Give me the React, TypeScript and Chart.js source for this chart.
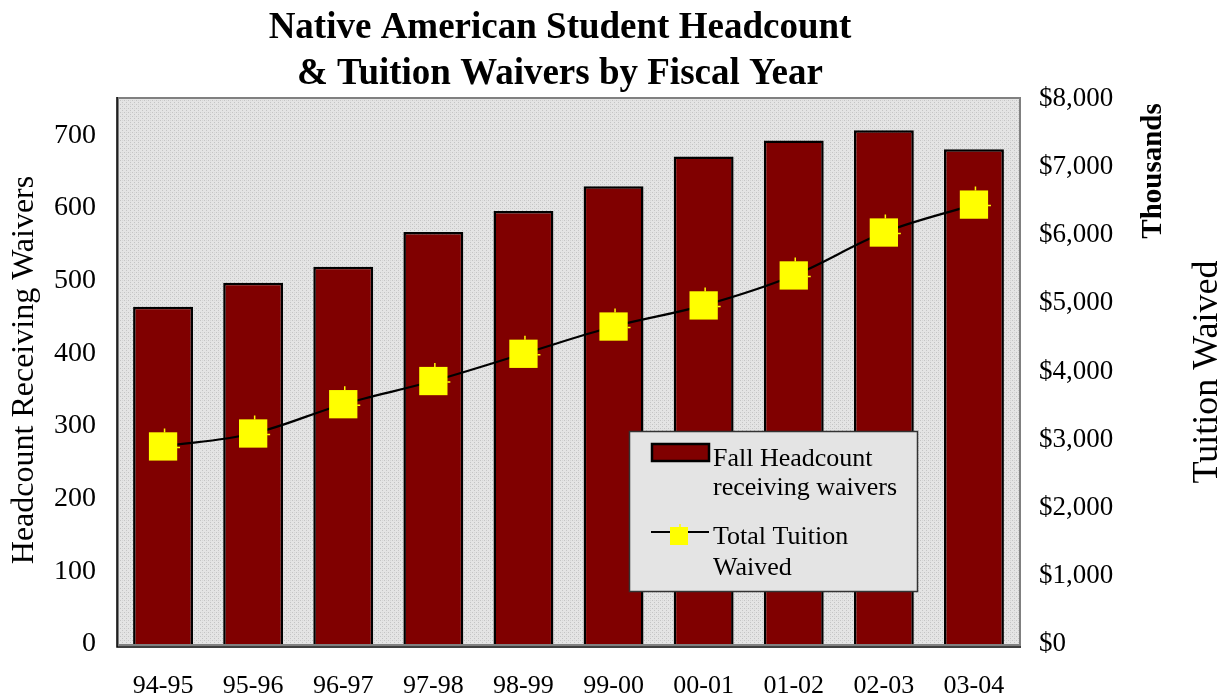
import React, { useEffect, useRef } from "react";
import { Chart, registerables } from "chart.js";

Chart.register(...registerables);

const categories = ["94-95", "95-96", "96-97", "97-98", "98-99", "99-00", "00-01", "01-02", "02-03", "03-04"];
const headcount = [464, 497, 519, 567, 596, 630, 671, 693, 707, 681];
const tuitionThousands = [2900, 3090, 3520, 3860, 4260, 4660, 4970, 5410, 6040, 6450];
const titleLines = ["Native American Student Headcount", "& Tuition Waivers by Fiscal Year"];
const leftTitle = "Headcount Receiving Waivers";
const rightTitle = "Tuition Waived";
const rightUnit = "Thousands";
const legendBarLabel = ["Fall Headcount", "receiving waivers"];
const legendLineLabel = ["Total Tuition", "Waived"];

const SERIF = "'Liberation Serif', 'Times New Roman', serif";
const BAR_COLOR = "#800000";
const MARKER_COLOR = "#ffff00";

function makePattern(ctx: CanvasRenderingContext2D) {
  const c = document.createElement("canvas");
  c.width = 4;
  c.height = 4;
  const p = c.getContext("2d")!;
  p.fillStyle = "#e4e4e4";
  p.fillRect(0, 0, 4, 4);
  p.fillStyle = "#c4c4c4";
  p.fillRect(0, 0, 1, 1);
  p.fillRect(2, 2, 1, 1);
  p.fillStyle = "#d6d6d6";
  p.fillRect(2, 0, 1, 1);
  return ctx.createPattern(c, "repeat");
}

export default function App() {
  const ref = useRef<HTMLCanvasElement | null>(null);

  useEffect(() => {
    document.body.style.margin = "0";
    const canvas = ref.current!;
    const ctx0 = canvas.getContext("2d")!;
    const pattern = makePattern(ctx0);

    const decor = {
      id: "decor",
      beforeDraw(chart: any) {
        const { ctx, chartArea: a } = chart;
        ctx.save();
        ctx.fillStyle = "#ffffff";
        ctx.fillRect(0, 0, chart.width, chart.height);
        ctx.fillStyle = pattern || "#e0e0e0";
        ctx.fillRect(a.left, a.top, a.right - a.left, a.bottom - a.top);
        ctx.restore();
      },
      afterDatasetsDraw(chart: any) {
        const { ctx, chartArea: a } = chart;
        ctx.save();
        // small marker ticks
        const meta = chart.getDatasetMeta(0);
        ctx.strokeStyle = MARKER_COLOR;
        ctx.lineWidth = 1.5;
        meta.data.forEach((pt: any) => {
          ctx.beginPath();
          ctx.moveTo(pt.x + 1.5, pt.y - 14);
          ctx.lineTo(pt.x + 1.5, pt.y - 18);
          ctx.moveTo(pt.x + 14, pt.y + 1);
          ctx.lineTo(pt.x + 17, pt.y + 1);
          ctx.stroke();
        });
        // frame
        ctx.strokeStyle = "#808080";
        ctx.lineWidth = 2;
        ctx.strokeRect(a.left, a.top - 1, a.right - a.left + 1, a.bottom - a.top + 2);
        ctx.strokeStyle = "#000000";
        ctx.lineWidth = 1.5;
        ctx.beginPath();
        ctx.moveTo(a.left - 1, a.top - 2);
        ctx.lineTo(a.left - 1, a.bottom + 3);
        ctx.lineTo(a.right + 2, a.bottom + 3);
        ctx.stroke();
        ctx.restore();
      },
      afterDraw(chart: any) {
        const { ctx } = chart;
        ctx.save();
        ctx.fillStyle = "#000";
        // title
        ctx.font = `bold 37px ${SERIF}`;
        ctx.textAlign = "center";
        ctx.textBaseline = "alphabetic";
        ctx.fillText(titleLines[0], 560, 38);
        ctx.fillText(titleLines[1], 560, 84);

        // left axis title
        ctx.save();
        ctx.translate(33, 370);
        ctx.rotate(-Math.PI / 2);
        ctx.font = `32px ${SERIF}`;
        ctx.fillText(leftTitle, 0, 0);
        ctx.restore();

        // right axis title
        ctx.save();
        ctx.translate(1217, 372);
        ctx.rotate(-Math.PI / 2);
        ctx.font = `36px ${SERIF}`;
        ctx.fillText(rightTitle, 0, 0);
        ctx.restore();

        // Thousands
        ctx.save();
        ctx.translate(1161, 171);
        ctx.rotate(-Math.PI / 2);
        ctx.font = `bold 29px ${SERIF}`;
        ctx.fillText(rightUnit, 0, 0);
        ctx.restore();

        // legend
        const lx = 629, ly = 431, lw = 288, lh = 160;
        ctx.fillStyle = "#e4e4e4";
        ctx.fillRect(lx, ly, lw, lh);
        ctx.strokeStyle = "#333333";
        ctx.lineWidth = 1.5;
        ctx.strokeRect(lx + 0.5, ly + 0.5, lw, lh);

        ctx.fillStyle = BAR_COLOR;
        ctx.fillRect(652, 444, 57, 17);
        ctx.strokeStyle = "#000";
        ctx.lineWidth = 2.5;
        ctx.strokeRect(652, 444, 57, 17);

        ctx.beginPath();
        ctx.lineWidth = 2;
        ctx.moveTo(651, 532);
        ctx.lineTo(709, 532);
        ctx.stroke();
        ctx.fillStyle = MARKER_COLOR;
        ctx.fillRect(670, 527, 18, 18);
        ctx.strokeStyle = MARKER_COLOR;
        ctx.lineWidth = 1.5;
        ctx.beginPath();
        ctx.moveTo(680, 527);
        ctx.lineTo(680, 524);
        ctx.stroke();

        ctx.fillStyle = "#000";
        ctx.font = `26px ${SERIF}`;
        ctx.textAlign = "left";
        ctx.fillText(legendBarLabel[0], 713, 466);
        ctx.fillText(legendBarLabel[1], 713, 495);
        ctx.fillText(legendLineLabel[0], 713, 544);
        ctx.fillText(legendLineLabel[1], 713, 575);
        ctx.restore();
      },
    };

    const chart = new Chart(canvas, {
      data: {
        labels: categories,
        datasets: [
          {
            type: "line",
            label: "Total Tuition Waived",
            data: tuitionThousands,
            yAxisID: "y2",
            borderColor: "#000000",
            borderWidth: 2.2,
            tension: 0.35,
            pointStyle: "rect",
            pointRadius: 20,
            pointBackgroundColor: MARKER_COLOR,
            pointBorderColor: MARKER_COLOR,
            pointBorderWidth: 0,
            order: 0,
          } as any,
          {
            type: "bar",
            label: "Fall Headcount receiving waivers",
            data: headcount,
            yAxisID: "y",
            backgroundColor: BAR_COLOR,
            borderColor: "#000000",
            borderWidth: 2.5,
            barPercentage: 0.665,
            categoryPercentage: 1,
            order: 1,
          } as any,
        ],
      },
      options: {
        responsive: false,
        animation: false,
        devicePixelRatio: 1,
        layout: { padding: { top: 99, left: 0, right: 0, bottom: 0 } },
        plugins: { legend: { display: false }, title: { display: false }, tooltip: { enabled: false } },
        scales: {
          x: {
            offset: true,
            grid: { display: false, drawTicks: false },
            border: { display: false },
            ticks: { color: "#000", font: { family: SERIF, size: 26 }, padding: 27, maxRotation: 0 },
            afterFit(s: any) {
              s.height = 56;
            },
          },
          y: {
            position: "left",
            min: 0,
            max: 750,
            grid: { display: false, drawTicks: false },
            border: { display: false },
            ticks: { stepSize: 100, color: "#000", font: { family: SERIF, size: 28 }, padding: 22 },
            afterBuildTicks(s: any) {
              s.ticks = s.ticks.filter((t: any) => t.value % 100 === 0);
            },
            afterFit(s: any) {
              s.width = 118;
            },
          },
          y2: {
            position: "right",
            min: 0,
            max: 8000,
            grid: { display: false, drawTicks: false },
            border: { display: false },
            ticks: {
              stepSize: 1000,
              color: "#000",
              font: { family: SERIF, size: 27 },
              padding: 20,
              callback: (v: any) => "$" + Number(v).toLocaleString("en-US"),
            },
            afterFit(s: any) {
              s.width = 209;
            },
          },
        },
      } as any,
      plugins: [decor],
    });
    return () => chart.destroy();
  }, []);

  return (
    <div style={{ width: 1228, height: 700 }}>
      <canvas ref={ref} width={1228} height={700} style={{ display: "block" }} />
    </div>
  );
}
